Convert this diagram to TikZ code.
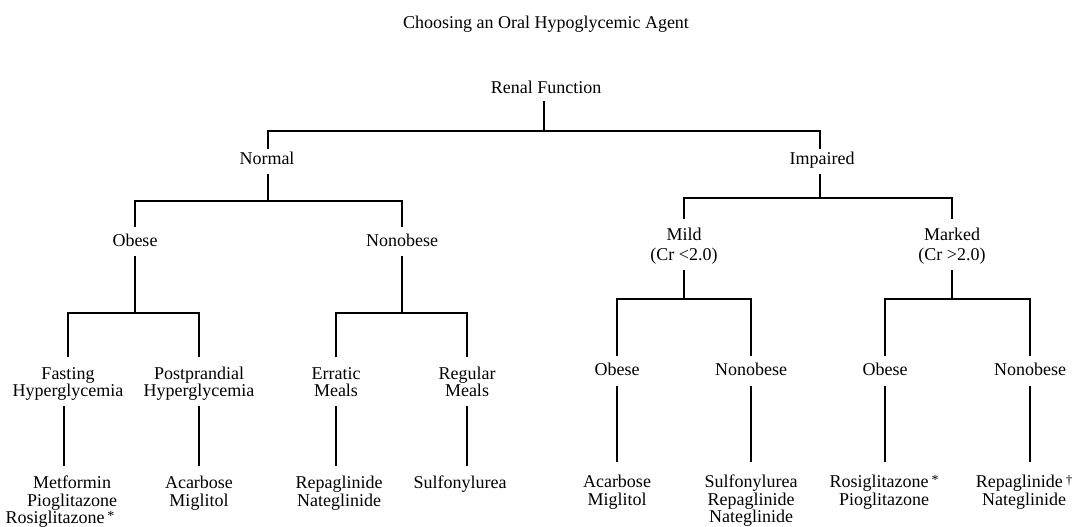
\documentclass[tikz,border=0pt]{standalone}
\usepackage{fontspec}
\setmainfont{Liberation Serif}
\newcommand{\starmark}{\,\raisebox{3pt}{\fontsize{14}{14}\selectfont *}}
\newcommand{\dagmark}{\,\raisebox{3pt}{\fontsize{13}{13}\selectfont †}}
\begin{document}
\begin{tikzpicture}[x=1pt,y=-1pt,
  lbl/.style={font=\fontsize{18}{17.5}\selectfont, align=center, inner sep=0pt, anchor=south,
    execute at begin node=\strut, execute at end node=\strut},
  conn/.style={draw=black, line width=1.3pt}]
\useasboundingbox (0,0) rectangle (1092,527);
% title
\node[lbl] (title) at (546,34.25) {Choosing an Oral Hypoglycemic Agent};
% level 0
\node[lbl] (renal) at (546,99.25) {Renal Function};
% level 1
\node[lbl] (normal) at (267,170.25) {Normal};
\node[lbl] (impaired) at (822,170.25) {Impaired};
% level 2
\node[lbl] (obL) at (135,252.25) {Obese};
\node[lbl] (nobL) at (402,252.25) {Nonobese};
\node[lbl] (mild) at (684,266.25) {Mild\\[2.5pt](Cr <2.0)};
\node[lbl] (marked) at (952,266.25) {Marked\\[2.5pt](Cr >2.0)};
% level 3 left
\node[lbl] (fast) at (68,402.25) {Fasting\\Hyperglycemia};
\node[lbl] (post) at (199,402.25) {Postprandial\\Hyperglycemia};
\node[lbl] (errat) at (336,402.25) {Erratic\\Meals};
\node[lbl] (regul) at (467,402.25) {Regular\\Meals};
% level 3 right
\node[lbl] (obR1) at (617,381.25) {Obese};
\node[lbl] (nobR1) at (751,381.25) {Nonobese};
\node[lbl] (obR2) at (885,381.25) {Obese};
\node[lbl] (nobR2) at (1030,381.25) {Nonobese};
% drugs
\node[lbl] (d1) at (72,529.25) {Metformin\\Pioglitazone\\\hspace*{-24pt}Rosiglitazone\starmark};
\node[lbl] (d2) at (199,511.75) {Acarbose\\Miglitol};
\node[lbl] (d3) at (339,511.75) {Repaglinide\\Nateglinide};
\node[lbl] (d4) at (460,494.25) {Sulfonylurea};
\node[lbl] (d5) at (617,510.75) {Acarbose\\Miglitol};
\node[lbl] (d6) at (751,528.25) {Sulfonylurea\\Repaglinide\\Nateglinide};
\node[lbl] (d7) at (884,510.75) {Rosiglitazone\starmark\\Pioglitazone};
\node[lbl] (d8) at (1024,510.75) {Repaglinide\dagmark\\Nateglinide};
% fork levels
\coordinate (f0) at (0,131);
\coordinate (f1) at (0,201);
\coordinate (f2) at (0,198);
\coordinate (f3) at (0,313);
\coordinate (f4) at (0,299);
% connectors
\draw[conn] ([xshift=-2pt,yshift=-2pt]renal.south) -- ([xshift=-2pt]renal.south |- f0);
\draw[conn] ([xshift=1pt,yshift=3pt]normal.north) -- ([xshift=1pt]normal.north |- f0) -- ([xshift=-2pt]impaired.north |- f0) -- ([xshift=-2pt,yshift=3pt]impaired.north);
\draw[conn] ([xshift=1pt,yshift=-4pt]normal.south) -- ([xshift=1pt]normal.south |- f1);
\draw[conn] ([yshift=7pt]obL.north) -- (obL.north |- f1) -- (nobL.north |- f1) -- ([yshift=7pt]nobL.north);
\draw[conn] ([xshift=-2pt,yshift=-4pt]impaired.south) -- ([xshift=-2pt]impaired.south |- f2);
\draw[conn] ([yshift=9pt]mild.north) -- (mild.north |- f2) -- (marked.north |- f2) -- ([yshift=9pt]marked.north);
\draw[conn] ([yshift=-4pt]obL.south) -- (obL.south |- f3);
\draw[conn] ([yshift=10pt]fast.north) -- (fast.north |- f3) -- (post.north |- f3) -- ([yshift=10pt]post.north);
\draw[conn] ([yshift=-4pt]nobL.south) -- (nobL.south |- f3);
\draw[conn] ([yshift=10pt]errat.north) -- (errat.north |- f3) -- (regul.north |- f3) -- ([yshift=10pt]regul.north);
\draw[conn] ([yshift=-4pt]mild.south) -- (mild.south |- f4);
\draw[conn] ([yshift=7pt]obR1.north) -- (obR1.north |- f4) -- (nobR1.north |- f4) -- ([yshift=7pt]nobR1.north);
\draw[conn] ([yshift=-4pt]marked.south) -- (marked.south |- f4);
\draw[conn] ([yshift=7pt]obR2.north) -- (obR2.north |- f4) -- (nobR2.north |- f4) -- ([yshift=7pt]nobR2.north);
% to drugs
\draw[conn] ([xshift=-4pt,yshift=-4pt]fast.south) -- ([xshift=-4pt,yshift=10pt]fast.south |- d1.north);
\draw[conn] ([yshift=-4pt]post.south) -- ([yshift=10pt]post.south |- d2.north);
\draw[conn] ([yshift=-4pt]errat.south) -- ([yshift=10pt]errat.south |- d3.north);
\draw[conn] ([yshift=-4pt]regul.south) -- ([yshift=10pt]regul.south |- d4.north);
\draw[conn] ([yshift=-5pt]obR1.south) -- ([yshift=13pt]obR1.south |- d5.north);
\draw[conn] ([yshift=-5pt]nobR1.south) -- ([yshift=13pt]nobR1.south |- d6.north);
\draw[conn] ([yshift=-5pt]obR2.south) -- ([yshift=13pt]obR2.south |- d7.north);
\draw[conn] ([yshift=-5pt]nobR2.south) -- ([yshift=13pt]nobR2.south |- d8.north);
\end{tikzpicture}
\end{document}
